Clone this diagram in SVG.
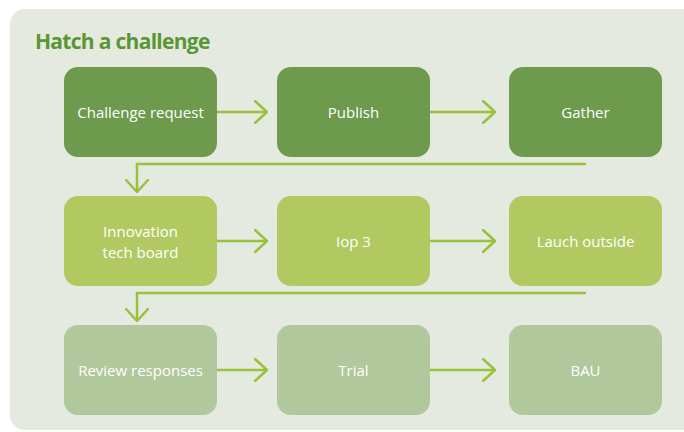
<svg xmlns="http://www.w3.org/2000/svg" width="684" height="432" viewBox="0 0 684 432">
<style>
.bg{fill:#e4eadf}
.r1{fill:#6d9a4d}
.r2{fill:#b2c961}
.r3{fill:#b0c89c}
.t{font-family:"Open Sans","Noto Sans",sans-serif;font-size:15px;fill:#ffffff;text-anchor:middle}
.title{font-family:"Open Sans","Noto Sans",sans-serif;font-size:21px;font-weight:bold;fill:#5a9634;letter-spacing:-0.7px}
.c{fill:none;stroke:#9bc03b;stroke-width:2.5}
</style>
<defs>
<marker id="ah" viewBox="0 0 14 24" refX="13" refY="12" markerWidth="14" markerHeight="24" markerUnits="userSpaceOnUse" orient="auto">
<path d="M1,1 L13,12 L1,23" fill="none" stroke="#9bc03b" stroke-width="2.5" stroke-linecap="round" stroke-linejoin="round"/>
</marker>
</defs>
<rect class="bg" x="10" y="9" width="700" height="421" rx="15"/>
<text class="title" x="35" y="49">Hatch a challenge</text>
<g id="connectors">
<path class="c" d="M217,112 H267" marker-end="url(#ah)"/>
<path class="c" d="M430,112 H495" marker-end="url(#ah)"/>
<path class="c" d="M586,164 H137 V192" marker-end="url(#ah)"/>
<path class="c" d="M217,241 H267" marker-end="url(#ah)"/>
<path class="c" d="M430,241 H495" marker-end="url(#ah)"/>
<path class="c" d="M586,293 H137 V321" marker-end="url(#ah)"/>
<path class="c" d="M217,370 H267" marker-end="url(#ah)"/>
<path class="c" d="M430,370 H495" marker-end="url(#ah)"/>
</g>
<g id="challenge-request"><rect class="r1" x="64" y="67" width="153" height="90" rx="14"/><text class="t" x="140.5" y="118">Challenge request</text></g>
<g id="publish"><rect class="r1" x="277" y="67" width="153" height="90" rx="14"/><text class="t" x="353.5" y="118">Publish</text></g>
<g id="gather"><rect class="r1" x="509" y="67" width="153" height="90" rx="14"/><text class="t" x="585.5" y="118">Gather</text></g>
<g id="innovation-tech-board"><rect class="r2" x="64" y="196" width="153" height="90" rx="14"/><text class="t" x="140.5" y="237">Innovation</text><text class="t" x="140.5" y="258">tech board</text></g>
<g id="iop3"><rect class="r2" x="277" y="196" width="153" height="90" rx="14"/><text class="t" x="353.5" y="247">Iop 3</text></g>
<g id="lauch-outside"><rect class="r2" x="509" y="196" width="153" height="90" rx="14"/><text class="t" x="585.5" y="247">Lauch outside</text></g>
<g id="review-responses"><rect class="r3" x="64" y="325" width="153" height="90" rx="14"/><text class="t" x="140.5" y="376">Review responses</text></g>
<g id="trial"><rect class="r3" x="277" y="325" width="153" height="90" rx="14"/><text class="t" x="353.5" y="376">Trial</text></g>
<g id="bau"><rect class="r3" x="509" y="325" width="153" height="90" rx="14"/><text class="t" x="585.5" y="376">BAU</text></g>
</svg>
